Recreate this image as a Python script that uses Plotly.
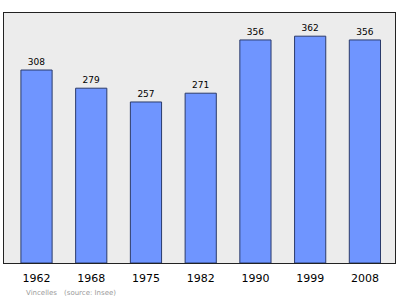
import plotly.graph_objects as go

years = ["1962", "1968", "1975", "1982", "1990", "1999", "2008"]
population = [308, 279, 257, 271, 356, 362, 356]
commune = "Vincelles"
source = "(source: Insee)"

xpos = list(range(len(years)))

fig = go.Figure()
fig.add_trace(go.Bar(
    x=xpos, y=population, width=0.57,
    marker=dict(color="#6f95ff", line=dict(color="#2b3b6b", width=1)),
    text=[str(v) for v in population], textposition="outside",
    textfont=dict(family="DejaVu Sans", size=9, color="#000"),
    cliponaxis=False,
))
pw, ph = 400 - 4 - 5, 299 - 13 - 36
anns = []
for txt, px, py in [(commune, 24, 293), (source, 62, 293)]:
    anns.append(dict(text=txt, x=(px - 4) / pw, y=(299 - 36 - py) / ph,
                     xref="paper", yref="paper", xanchor="left", yanchor="middle",
                     showarrow=False,
                     font=dict(family="DejaVu Sans", size=7, color="#9a9a9a")))
fig.update_layout(
    width=400, height=299,
    margin=dict(l=4, r=5, t=13, b=36),
    paper_bgcolor="white", plot_bgcolor="#ececec",
    showlegend=False,
    xaxis=dict(range=[-0.594, 6.55], tickvals=xpos, ticktext=years,
               showgrid=False, zeroline=False, showline=True, mirror=True,
               linecolor="#222", linewidth=1,
               ticks="outside", ticklen=5, tickcolor="rgba(0,0,0,0)",
               tickfont=dict(family="DejaVu Sans", size=11, color="#000")),
    yaxis=dict(range=[0, 399], showticklabels=False, showgrid=False, zeroline=False,
               showline=True, mirror=True, linecolor="#222", linewidth=1, ticks=""),
    annotations=anns,
)
fig.write_html("out.html")
